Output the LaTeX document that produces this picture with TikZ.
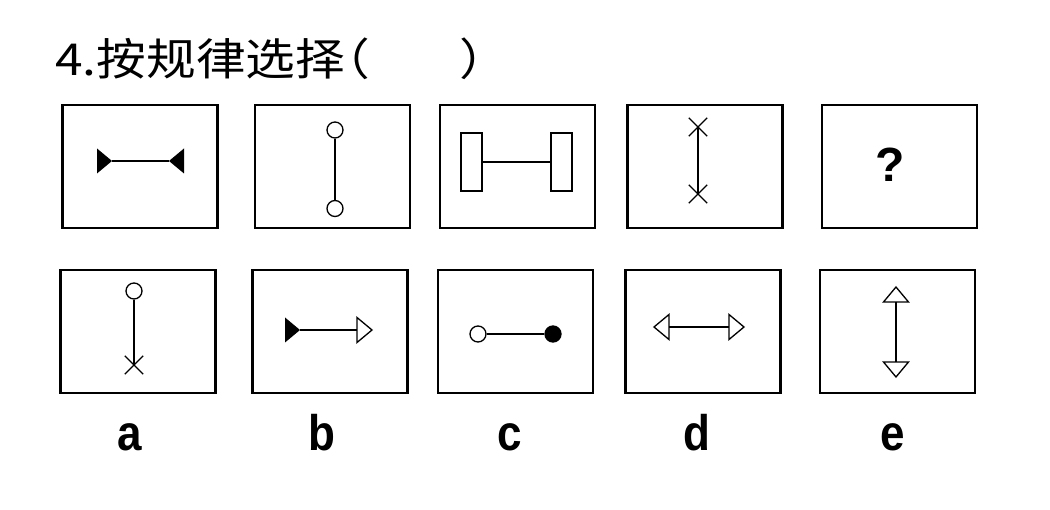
\documentclass[tikz,border=0pt]{standalone}
\usepackage{fontspec}
\setmainfont{Liberation Sans}
\newfontfamily\cjk{Noto Sans CJK SC}
\usetikzlibrary{shapes.misc}
\begin{document}
\begin{tikzpicture}[x=1pt,y=-1pt,
  panel/.style={draw, line width=2.2pt, minimum width=155pt, minimum height=123pt, inner sep=0pt},
  link/.style={line width=1.6pt},
  ocirc/.style={circle, draw, fill=white, line width=1.3pt, minimum size=16pt, inner sep=0pt},
  fcirc/.style={circle, draw, fill=black, line width=1.3pt, minimum size=16pt, inner sep=0pt},
  xmark/.style={cross out, draw, line width=1.3pt, minimum size=17pt, inner sep=0pt},
  bar/.style={draw, line width=1.6pt, minimum width=21pt, minimum height=58pt, inner sep=0pt},
  lbl/.style={font=\fontsize{50}{50}\selectfont\bfseries, anchor=base, inner sep=0pt},
  ftri/.pic={\fill (0,0) -- (-15,12.5) -- (-15,-12.5) -- cycle;},
  otri/.pic={\draw[fill=white, line width=1.3pt, line join=miter] (0,-12.5) -- (15,0) -- (0,12.5) -- cycle;},
]
\useasboundingbox[fill=white] (0,0) rectangle (1050,510);

% title
\node[anchor=base west, inner sep=0pt] (title) at (55,76)
  {\scalebox{1.13}[1]{\cjk\fontsize{44}{44}\selectfont 4.按规律选择\hspace{-22pt}（\hspace{79pt}）}};

% top row panels
\node[panel] (p1) at (140,166.5) {};
\node[panel] (p2) at (332.25,166.5) {};
\node[panel] (p3) at (517.75,166.5) {};
\node[panel] (p4) at (705,166.5) {};
\node[panel] (p5) at (899.5,166.5) {};

% bottom row panels
\node[panel] (qa) at (138,331.5) {};
\node[panel] (qb) at (330,331.5) {};
\node[panel] (qc) at (515.25,331.5) {};
\node[panel] (qd) at (703,331.5) {};
\node[panel] (qe) at (897.5,331.5) {};

% panel 1: filled triangles facing each other
\coordinate (t1) at (112,161);
\coordinate (t2) at (169,161);
\pic at (t1) {ftri};
\pic[rotate=180] at (t2) {ftri};
\draw[link] (t1) -- (t2);

% panel 2: two open circles
\node[ocirc] (c21) at (335,130) {};
\node[ocirc] (c22) at (335,208.5) {};
\draw[link] (c21) -- (c22);

% panel 3: two bars
\node[bar] (r1) at (471.5,162) {};
\node[bar] (r2) at (561.5,162) {};
\draw[link] (r1) -- (r2);

% panel 4: two crosses
\node[xmark] (x1) at (698,127) {};
\node[xmark] (x2) at (698,194) {};
\draw[link] (x1.center) -- (x2.center);

% panel 5: question mark
\node[font=\fontsize{48}{48}\selectfont\bfseries, inner sep=0pt] (qm) at (890,165) {?};

% option a: circle and cross
\node[ocirc] (ac) at (134,291) {};
\node[xmark] (ax) at (134,365) {};
\draw[link] (ac) -- (ax.center);

% option b: filled triangle and open triangle
\coordinate (b1) at (300,330);
\coordinate (b2) at (357,330);
\pic at (b1) {ftri};
\pic at (b2) {otri};
\draw[link] (b1) -- (b2);

% option c: open and filled circle
\node[ocirc] (cc1) at (478,334) {};
\node[fcirc] (cc2) at (553,334) {};
\draw[link] (cc1) -- (cc2);

% option d: open triangles outward horizontally
\coordinate (d1) at (669,327);
\coordinate (d2) at (729,327);
\pic[rotate=180] at (d1) {otri};
\pic at (d2) {otri};
\draw[link] (d1) -- (d2);

% option e: open triangles outward vertically
\coordinate (e1) at (896,302);
\coordinate (e2) at (896,362);
\pic[rotate=90] at (e1) {otri};
\pic[rotate=-90] at (e2) {otri};
\draw[link] (e1) -- (e2);

% labels
\node[lbl] (la) at (130,451) {\scalebox{0.88}[1]{a}};
\node[lbl] (lb) at (322,451) {\scalebox{0.88}[1]{b}};
\node[lbl] (lc) at (510,451) {\scalebox{0.88}[1]{c}};
\node[lbl] (ld) at (697,451) {\scalebox{0.88}[1]{d}};
\node[lbl] (le) at (893,451) {\scalebox{0.88}[1]{e}};
\end{tikzpicture}
\end{document}
